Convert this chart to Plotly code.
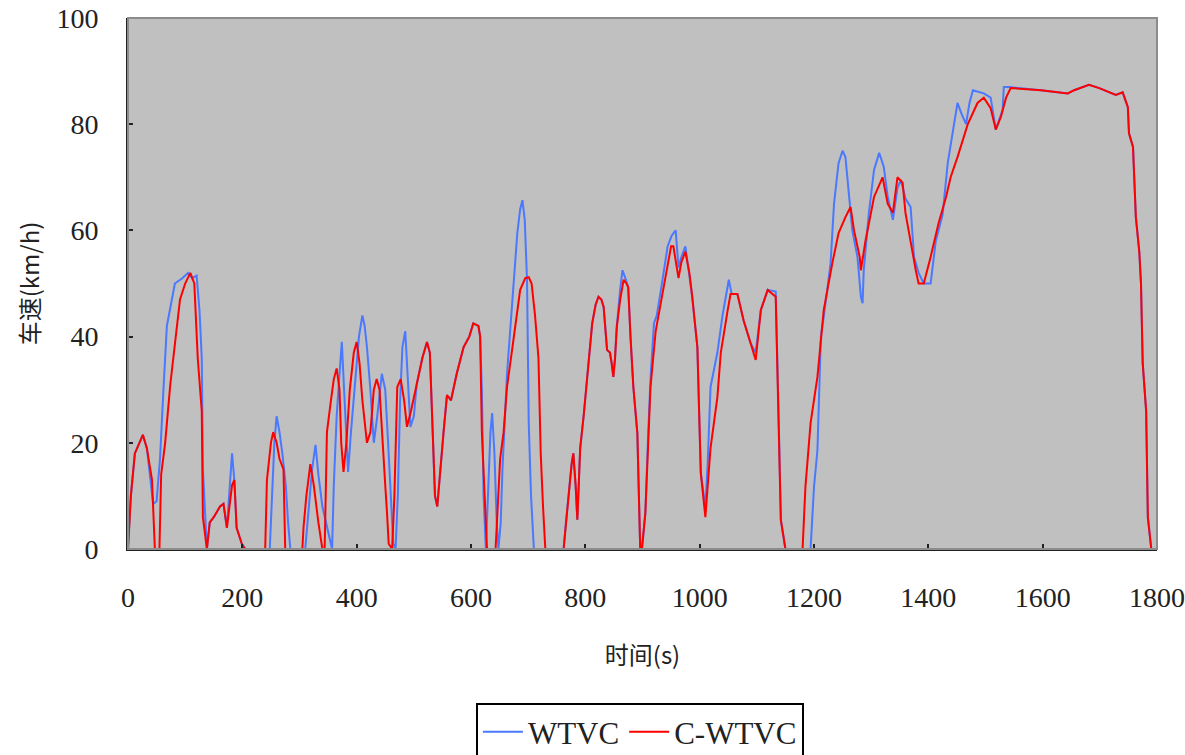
import plotly.graph_objects as go

# C-WTVC (red) key points
t_cwtvc = [0, 5, 12, 26, 33, 42, 47, 55, 58, 65, 74, 82, 91, 100, 109, 116, 122, 129, 131, 138,
           143, 150, 161, 167, 173, 182, 186, 190, 199, 205, 240, 243, 250, 254, 260, 265, 272, 275,
           305, 307, 312, 319, 325, 333, 340, 344, 348, 355, 360, 365, 370, 373, 377, 382, 388, 395,
           400, 405, 410, 418, 424, 430, 435, 440, 445, 450, 453, 456, 462, 466, 471, 477, 483, 488,
           495, 505, 515, 523, 528, 532, 537, 541, 546, 552, 558, 565, 575, 587, 597, 604, 613, 616,
           619, 622, 628, 643, 651, 657, 663, 675, 686, 695, 701, 706, 712, 718, 722, 726, 730, 762,
           766, 771, 776, 779, 783, 786, 789, 791, 797, 803, 812, 818, 823, 828, 832, 838, 843, 846,
           849, 852, 855, 861, 867, 872, 875, 879, 884, 891, 896, 899, 905, 910, 914, 923, 934, 944,
           950, 954, 958, 963, 968, 975, 982, 987, 996, 1002, 1010, 1014, 1019, 1031, 1037, 1049, 1054,
           1066, 1077, 1089, 1098, 1107, 1119, 1133, 1138, 1142, 1150, 1180, 1185, 1194, 1206, 1212,
           1217, 1232, 1243, 1255, 1264, 1270, 1280, 1282, 1290, 1305, 1320, 1329, 1338, 1346, 1355,
           1360, 1369, 1378, 1383, 1392, 1404, 1418, 1431, 1439, 1451, 1469, 1486, 1497, 1509, 1518,
           1527, 1536, 1544, 1597, 1644, 1655, 1681, 1699, 1728, 1740, 1749, 1751, 1758, 1763, 1769,
           1772, 1775, 1781, 1784, 1790]
v_cwtvc = [0, 10, 18, 21.5, 19, 13, 0, 0, 14, 20, 31, 38, 47, 50, 52, 50, 36, 26, 6, 0,
           5, 6, 8, 8.5, 4, 12, 13, 4, 1, 0, 0, 13, 20, 22, 20, 17, 15, 0,
           0, 4, 10, 16, 12, 5, 0, 0, 22, 28, 32, 34, 30, 20, 14.5, 20, 30, 37,
           39, 35, 28, 20, 22, 30, 32, 30, 20, 12, 7, 1, 0, 10, 30.5, 32, 28, 23,
           26, 31, 36, 39, 37, 25, 10, 8, 15, 22, 29, 28, 33, 38, 40, 42.5, 42, 40,
           22, 14, 0, 0, 17, 22, 30.5, 40, 48.8, 51, 51.2, 50, 44, 36, 18, 8, 0, 0,
           5, 11, 16, 18, 12, 5.5, 12, 19, 25, 32, 42.5, 46, 47.5, 47, 45.6, 37.5, 37, 35,
           32.4, 36, 41.8, 47, 50.7, 50, 49.3, 40, 30.5, 21.8, 0, 0, 6.8, 20, 30.5, 41, 47.5, 53.8,
           57, 57, 54, 51, 54, 56, 52, 47.5, 38, 14.3, 6, 12, 19, 28.6, 37, 45, 48,
           48, 43, 38.8, 35.6, 45, 48.8, 47.5, 25.6, 5.5, 0, 0, 11.7, 23.7, 32.4, 40,
           45, 53.8, 59.5, 62.5, 64.4, 60, 55, 52.5, 58, 66.3, 70, 65, 63.3, 70, 69,
           63.3, 57.6, 52.5, 50, 50, 55, 61.4, 66.3, 70, 73.8, 80, 84, 85, 83, 79,
           81.4, 85, 86.8, 86.4, 85.8, 86.4, 87.4, 86.8, 85.5, 86, 83.2, 78.3, 75.7, 62.5, 56,
           50, 35, 26, 6, 0]

# WTVC (blue) key points
t_wtvc = [0, 5, 12, 26, 33, 40, 44, 50, 56, 62, 68, 75, 82, 95, 105, 112, 120, 125, 129, 131,
          135, 138, 143, 150, 161, 167, 173, 178, 182, 186, 190, 199, 205, 248, 252, 256, 260, 265,
          270, 276, 280, 284, 310, 316, 322, 328, 333, 340, 350, 357, 360, 365, 370, 374, 378, 382,
          385, 390, 398, 404, 410, 414, 418, 424, 430, 436, 444, 450, 455, 460, 464, 468, 472, 476,
          480, 485, 490, 494, 500, 505, 515, 523, 528, 532, 537, 541, 546, 552, 558, 565, 575, 587,
          597, 604, 613, 616, 619, 622, 626, 630, 634, 637, 641, 645, 648, 652, 655, 663, 669, 675,
          681, 686, 690, 694, 698, 701, 705, 710, 762, 766, 771, 776, 779, 783, 786, 789, 791, 797,
          803, 812, 818, 823, 828, 832, 838, 843, 846, 849, 852, 855, 861, 865, 870, 875, 879, 884,
          891, 896, 899, 905, 910, 914, 920, 925, 934, 944, 951, 958, 963, 968, 975, 982, 987, 996,
          1002, 1010, 1014, 1019, 1031, 1040, 1051, 1056, 1066, 1077, 1089, 1098, 1107, 1119, 1133,
          1138, 1142, 1150, 1194, 1200, 1206, 1212, 1217, 1229, 1235, 1243, 1250, 1255, 1261, 1267,
          1276, 1282, 1285, 1287, 1296, 1305, 1314, 1322, 1329, 1338, 1346, 1352, 1360, 1369, 1375,
          1383, 1392, 1404, 1413, 1425, 1434, 1443, 1451, 1458, 1466, 1472, 1478, 1497, 1509, 1518,
          1530, 1532, 1541, 1597, 1644, 1655, 1681, 1699, 1728, 1740, 1749, 1751, 1758, 1763, 1769,
          1772, 1775, 1781, 1784, 1790]
v_wtvc = [0, 10, 18, 21.5, 19, 12, 8.5, 9, 17, 30, 42, 46, 50, 51, 52, 51, 51.5, 45, 36, 15,
          5, 0, 5, 6, 8, 8.5, 4, 12, 18, 13, 4, 1, 0, 0, 10, 20, 25, 22,
          18, 12, 5, 0, 0, 8, 15, 19.6, 14, 8, 3, 0, 12, 25, 33, 39, 30, 20,
          14.5, 22, 32, 40, 44, 42, 38, 30, 20, 25, 33, 30, 20, 8, 1, 0, 10, 28,
          38, 41, 30, 23, 25, 31, 36, 39, 37, 25, 10, 8, 15, 22, 29, 28, 33, 38,
          40, 42.5, 42, 40, 30, 10, 0, 10, 22, 25.6, 18, 5, 0, 5, 15, 33, 42, 50.6,
          59.5, 64, 65.7, 62, 50.6, 23.7, 10, 0, 0, 5, 11, 16, 18, 12, 5.5, 12, 19, 25,
          32, 42.5, 46, 47.5, 47, 45.6, 37.5, 37, 35, 32.4, 36, 42, 49, 52.5, 51, 49.3, 40, 30.5,
          21.8, 0, 0, 6.8, 22, 32, 42.5, 44, 50, 57, 59, 60, 53, 55, 57, 52, 47.5, 38,
          14.3, 8, 16, 30.5, 37, 44, 50.7, 48, 48, 43, 38.8, 37, 45, 48.8, 48.5,
          25.6, 5.5, 0, 0, 11.7, 18.6, 40, 43.7, 53.8, 65, 72.7, 75, 73.8, 66.3, 60,
          55, 47.5, 46.3, 52.5, 63.3, 71.4, 74.6, 72, 66.3, 62, 68, 69.5, 66, 64.4, 55,
          52, 50, 50, 58, 63, 72.7, 79, 84, 82, 80, 84, 86.4, 85.8, 85, 79,
          82.7, 87, 87, 86.4, 85.8, 86.4, 87.4, 86.8, 85.5, 86, 83.2, 78.3, 75.7, 62.5, 56,
          50, 35, 26, 6, 0]

x_ticks = [0, 200, 400, 600, 800, 1000, 1200, 1400, 1600, 1800]
y_ticks = [0, 20, 40, 60, 80, 100]

serif = "Liberation Serif, Times New Roman, serif"
cjk = "Noto Sans CJK SC, Liberation Serif, serif"

fig = go.Figure()
fig.add_trace(go.Scatter(x=t_wtvc, y=v_wtvc, mode="lines", name="WTVC",
                         line=dict(color="#4A78FF", width=2)))
fig.add_trace(go.Scatter(x=t_cwtvc, y=v_cwtvc, mode="lines", name="C-WTVC",
                         line=dict(color="#FF0000", width=2)))

fig.update_layout(
    width=1185, height=755,
    margin=dict(l=128, r=28, t=18, b=206, autoexpand=False),
    paper_bgcolor="white",
    plot_bgcolor="#C0C0C0",
    showlegend=True,
    legend=dict(orientation="h", xref="container", yref="container",
                x=0.54, xanchor="center", y=1 - 703 / 755, yanchor="top",
                bgcolor="white", bordercolor="black", borderwidth=2,
                font=dict(family=serif, size=31, color="#222222"),
                itemwidth=40),
    shapes=[dict(type="rect", xref="paper", yref="paper", x0=0, x1=1, y0=0, y1=1,
                 line=dict(color="#8C8C8C", width=2), layer="above")],
)
fig.update_xaxes(range=[0, 1800], tickvals=x_ticks, ticks="inside", ticklen=5,
                 tickwidth=2, tickcolor="#222222", showline=True, linecolor="#222222",
                 linewidth=2, showgrid=False, zeroline=False, ticklabelstandoff=22,
                 automargin=False,
                 tickfont=dict(family=serif, size=28, color="#222222"),
                 title=dict(text="时间(s)", standoff=36,
                            font=dict(family=cjk, size=24, color="#222222")))
fig.update_yaxes(range=[0, 100], tickvals=y_ticks, ticks="inside", ticklen=5,
                 tickwidth=2, tickcolor="#222222", showline=True, linecolor="#222222",
                 linewidth=2, showgrid=False, zeroline=False, ticklabelstandoff=22,
                 automargin=False,
                 tickfont=dict(family=serif, size=28, color="#222222"),
                 title=dict(text="车速(km/h)", standoff=10,
                            font=dict(family=cjk, size=24, color="#222222")))

fig.write_html("out.html")
